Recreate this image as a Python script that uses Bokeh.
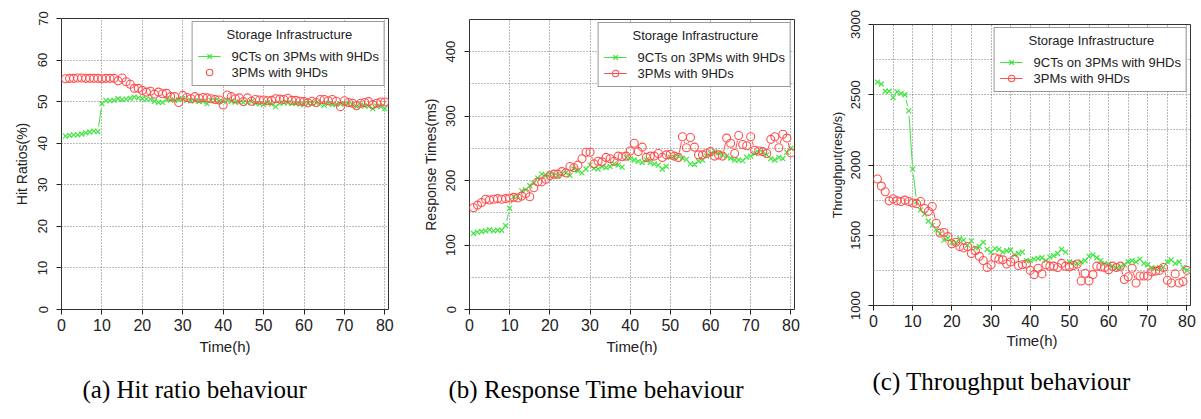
import math
from bokeh.plotting import figure
from bokeh.layouts import row
from bokeh.models import Range1d, FixedTicker, Legend, LegendItem, ColumnDataSource, Title
from bokeh.embed import file_html
from bokeh.resources import INLINE

# ---------------- data ----------------
hours = list(range(1, 81))

hit_ct = [41.7, 41.9, 42.0, 42.0, 42.2, 42.5, 42.7, 42.9, 42.8, 49.5,
          50.3, 50.2, 50.3, 50.7, 50.5, 50.6, 50.8, 51.1, 50.9, 50.7,
          50.6, 50.6, 50.1, 49.8, 49.8, 50.5, 50.4, 50.3, 50.5, 50.7,
          50.3, 50.2, 50.2, 50.1, 50.1, 49.5, 50.3, 50.3, 50.1, 50.0,
          50.3, 50.1, 49.9, 49.8, 49.8, 49.7, 50.0, 49.6, 49.5, 49.3,
          49.8, 49.4, 48.8, 49.6, 49.7, 49.7, 49.6, 49.5, 49.4, 49.3,
          49.6, 49.5, 49.7, 49.4, 49.1, 49.6, 49.3, 49.4, 49.4, 49.5,
          49.4, 49.3, 48.8, 49.2, 48.9, 48.9, 48.3, 48.9, 48.8, 48.3]
hit_pm = [55.5, 55.6, 55.6, 55.7, 55.7, 55.6, 55.6, 55.6, 55.6, 55.5,
          55.6, 55.6, 55.6, 55.0, 55.7, 54.8, 54.2, 53.2, 53.2, 52.7,
          52.3, 52.5, 51.8, 52.3, 51.9, 52.0, 51.2, 51.2, 49.8, 51.5,
          51.0, 50.7, 51.2, 50.8, 51.0, 50.9, 50.7, 50.5, 50.4, 49.2,
          51.6, 51.2, 50.7, 50.9, 50.0, 50.9, 50.1, 50.5, 50.4, 50.4,
          50.2, 50.3, 50.7, 50.6, 50.5, 50.8, 50.3, 50.3, 50.1, 50.0,
          49.7, 50.1, 49.8, 50.5, 50.5, 50.2, 50.5, 50.1, 48.8, 50.2,
          49.8, 49.6, 49.0, 49.6, 49.8, 50.0, 49.3, 49.6, 49.9, 49.9]

rt_ct = [118, 120, 121, 122, 124, 122, 123, 123, 130, 157,
         175, 176, 184, 186, 192, 196, 204, 210, 208, 210,
         208, 207, 210, 212, 208, 218, 215, 212, 218, 224,
         219, 218, 222, 220, 222, 226, 224, 221, 236, 234,
         232, 230, 228, 232, 228, 226, 224, 218, 222, 236,
         236, 238, 235, 233, 226, 225, 230, 232, 238, 242,
         245, 243, 240, 238, 235, 232, 232, 231, 236, 238,
         242, 244, 244, 240, 234, 232, 236, 234, 244, 250]
rt_pm = [158, 162, 166, 171, 170, 171, 172, 171, 172, 173,
         174, 173, 176, 180, 175, 189, 198, 198, 202, 208,
         210, 210, 214, 212, 222, 220, 224, 234, 244, 244,
         226, 230, 229, 236, 234, 230, 238, 237, 238, 246,
         258, 245, 252, 236, 238, 238, 242, 236, 240, 241,
         238, 236, 268, 251, 267, 252, 240, 240, 242, 245,
         238, 240, 238, 266, 258, 242, 270, 256, 254, 268,
         247, 246, 245, 242, 264, 268, 251, 272, 266, 243]

tp_ct = [2590, 2575, 2525, 2525, 2480, 2520, 2510, 2500, 2385, 1970,
         1740, 1680, 1650, 1600, 1570, 1540, 1510, 1465, 1480, 1450,
         1445, 1475, 1465, 1430, 1460, 1410, 1420, 1450, 1400, 1380,
         1405, 1400, 1380, 1390, 1395, 1360, 1370, 1380, 1320, 1320,
         1330, 1335, 1340, 1320, 1345, 1355, 1370, 1400, 1380, 1310,
         1305, 1300, 1310, 1320, 1350, 1360, 1340, 1320, 1300, 1295,
         1280, 1265, 1275, 1290, 1310, 1320, 1310, 1330, 1300, 1290,
         1270, 1265, 1270, 1275, 1310, 1325, 1300, 1310, 1270, 1250]
tp_pm = [1900, 1850, 1810, 1745, 1760, 1745, 1740, 1750, 1740, 1730,
         1725, 1740, 1690, 1670, 1705, 1585, 1515, 1520, 1490, 1440,
         1450, 1420, 1410, 1420, 1370, 1390, 1350, 1320, 1270, 1290,
         1340, 1330, 1325, 1295, 1310, 1330, 1285, 1290, 1295, 1250,
         1220, 1265, 1225, 1290, 1280, 1280, 1270, 1300, 1280, 1275,
         1285, 1295, 1175, 1230, 1175, 1220, 1280, 1275, 1270, 1255,
         1280, 1270, 1280, 1185, 1205, 1265, 1160, 1210, 1210, 1210,
         1240, 1245, 1250, 1270, 1180, 1160, 1225, 1160, 1170, 1250]

x_ticks = [0, 10, 20, 30, 40, 50, 60, 70, 80]
hit_yticks = [0, 10, 20, 30, 40, 50, 60, 70]
rt_yticks = [0, 100, 200, 300, 400]
rt_ygrid = [50, 100, 150, 200, 250, 300, 350, 400]
tp_yticks = [1000, 1500, 2000, 2500, 3000]
tp_ygrid = [1250, 1500, 1750, 2000, 2250, 2500, 2750]
tp_xgrid = [5, 10, 15, 20, 25, 30, 35, 40, 45, 50, 55, 60, 65, 70, 75, 80]

series_labels = ["9CTs on 3PMs with 9HDs", "3PMs with 9HDs"]
legend_title = "Storage Infrastructure"
x_label = "Time(h)"
y_labels = ["Hit Ratios(%)", "Response Times(ms)", "Throughput(resp/s)"]
caption_tags = ["(a)", "(b)", "(c)"]
caption_texts = ["Hit ratio behaviour", "Response Time behaviour", "Throughput behaviour"]

GREEN = "#3fe63f"
RED = "#ff5050"
SANS = "Liberation Sans"
SERIF = "Liberation Serif"
H = 419
PAD = "\u00a0" * 8


def gapped(xs, ys, sx, sy, gap=5.0):
    """segments between consecutive points, shortened by a pixel gap (R type='b')"""
    x0, y0, x1, y1 = [], [], [], []
    for i in range(len(xs) - 1):
        ddx = xs[i + 1] - xs[i]
        ddy = ys[i + 1] - ys[i]
        d = math.hypot(ddx * sx, ddy * sy)
        if d > 2 * gap + 1:
            f = gap / d
            x0.append(xs[i] + ddx * f)
            y0.append(ys[i] + ddy * f)
            x1.append(xs[i + 1] - ddx * f)
            y1.append(ys[i + 1] - ddy * f)
    return dict(x0=x0, y0=y0, x1=x1, y1=y1)


def panel(ct, pm, yr, yticks, ygrid, xgrid, ylabel, width, fl, fr, ft, fbot,
          ylab_size, ylab_off, xlab_off, caption, cap_offset, cap_standoff):
    fw = width - fl - fr
    fh = fbot - ft
    p = figure(width=width, height=H, min_border_left=fl, min_border_right=fr,
               min_border_top=ft, min_border_bottom=H - fbot,
               x_range=Range1d(0, 80.9), y_range=Range1d(*yr),
               output_backend="svg", toolbar_location=None)
    p.frame_align = False
    p.background_fill_color = "white"
    p.border_fill_color = "white"
    p.outline_line_color = "#333333"
    p.outline_line_width = 1

    for ax in (p.xaxis[0], p.yaxis[0]):
        ax.axis_line_color = None
        ax.major_tick_out = 5
        ax.major_tick_in = 0
        ax.major_tick_line_color = "#222222"
        ax.minor_tick_line_color = None
        ax.major_label_text_font = SANS
        ax.major_label_text_color = "#222222"
        ax.axis_label_text_font = SANS
        ax.axis_label_text_font_style = "normal"
        ax.axis_label_text_color = "#222222"
    p.xaxis.ticker = FixedTicker(ticks=x_ticks)
    p.xaxis.major_label_text_font_size = "16px"
    p.xaxis.major_label_standoff = 4
    p.xaxis.axis_label = x_label
    p.xaxis.axis_label_text_font_size = "15px"
    p.xaxis.axis_label_standoff = xlab_off
    p.yaxis.ticker = FixedTicker(ticks=yticks)
    p.yaxis.major_label_text_font_size = "13px"
    p.yaxis.major_label_orientation = "vertical"
    p.yaxis.major_label_standoff = 9
    p.yaxis.axis_label = ylabel
    p.yaxis.axis_label_text_font_size = ylab_size
    p.yaxis.axis_label_standoff = ylab_off

    p.xgrid.ticker = FixedTicker(ticks=xgrid)
    p.ygrid.ticker = FixedTicker(ticks=ygrid)
    for g in (p.xgrid[0], p.ygrid[0]):
        g.grid_line_color = "#777777"
        g.grid_line_dash = "1 2"
        g.grid_line_width = 1

    sx = fw / 80.9
    sy = fh / (yr[1] - yr[0])
    items = []
    for ys, col, marker, size, lab in ((ct, GREEN, "x", 7, series_labels[0]),
                                        (pm, RED, "circle", 8, series_labels[1])):
        seg = p.segment("x0", "y0", "x1", "y1", source=ColumnDataSource(gapped(hours, ys, sx, sy)),
                        line_color=col, line_width=1)
        if marker == "x":
            sc = p.scatter(hours, ys, marker="x", size=size, line_color=col, line_width=1.2)
        else:
            sc = p.scatter(hours, ys, marker="circle", size=size, line_color=col,
                           fill_color=None, line_width=1.1)
        items.append(LegendItem(label=lab, renderers=[seg, sc]))

    leg = Legend(items=items, title=PAD + legend_title, location="top_right", margin=3,
                 padding=5, spacing=0, label_text_font=SANS, label_text_font_size="13px",
                 label_text_color="#222222",
                 title_text_font=SANS, title_text_font_size="13px", title_text_font_style="normal",
                 title_text_color="#222222", title_standoff=6,
                 glyph_width=23, glyph_height=16, label_height=16, label_standoff=11,
                 border_line_color="#333333", border_line_width=1, background_fill_alpha=1.0)
    p.add_layout(leg)

    # sub-figure caption on one line below the x axis
    p.add_layout(Title(text=caption, align="left", offset=cap_offset, standoff=cap_standoff,
                       text_font=SERIF, text_font_size="25px", text_font_style="normal",
                       text_color="black"), "below")
    return p


captions = [f"{t} {s}" for t, s in zip(caption_tags, caption_texts)]

pa = panel(hit_ct, hit_pm, (0, 70), hit_yticks, hit_yticks, x_ticks, y_labels[0],
           400, 61, 12, 18, 309, "14px", 6, 4, captions[0], 82 - 61, 32)
pb = panel(rt_ct, rt_pm, (0, 450), rt_yticks, rt_ygrid, x_ticks, y_labels[1],
           410, 69, 16, 19, 309, "14px", 5, 4, captions[1], 448 - 469, 32)
pc = panel(tp_ct, tp_pm, (1000, 3000), tp_yticks, tp_ygrid, tp_xgrid, y_labels[2],
           391, 63, 11, 24, 305, "12.5px", 3, 2, captions[2], 872 - 873, 28)

layout = row(pa, pb, pc)
open("out.html", "w").write(file_html(layout, INLINE))
